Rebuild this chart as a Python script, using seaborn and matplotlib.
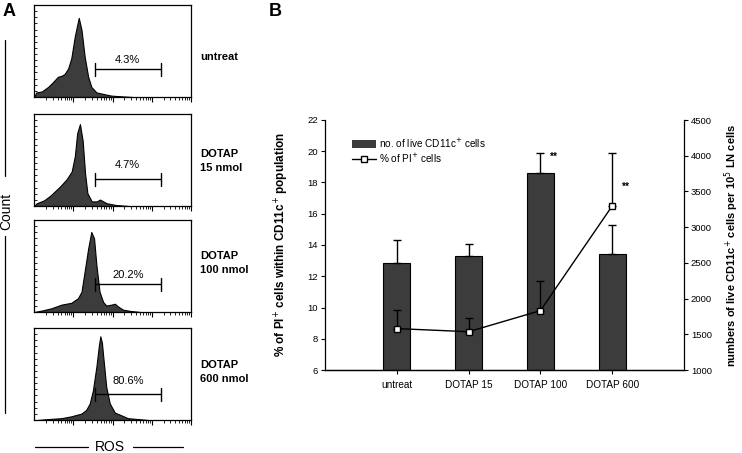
import matplotlib
matplotlib.use("Agg")
import matplotlib.pyplot as plt
from matplotlib.lines import Line2D
from matplotlib.patches import Patch
import numpy as np
import seaborn as sns

# ---- panel A: ROS histograms (log decades, height as fraction of box) ----
SAMPLES = ["untreat", "DOTAP\n15 nmol", "DOTAP\n100 nmol", "DOTAP\n600 nmol"]
GATE_PCT = ["4.3%", "4.7%", "20.2%", "80.6%"]
GATE_RANGE = [1.55, 3.23]

UNTREAT_ROS = [0.0, 0.06, 0.2, 0.36, 0.48, 0.61, 0.70, 0.78, 0.87, 0.95, 1.04, 1.14,
               1.21, 1.29, 1.38, 1.46, 1.59, 1.80, 1.97, 2.3, 2.5]
UNTREAT_COUNT = [0, 0.05, 0.06, 0.11, 0.16, 0.22, 0.23, 0.25, 0.31, 0.42, 0.66, 0.86,
                 0.73, 0.44, 0.22, 0.11, 0.05, 0.03, 0.015, 0.005, 0]

D15_ROS = [0.0, 0.07, 0.25, 0.41, 0.66, 0.83, 0.96, 1.04, 1.10, 1.17, 1.24, 1.30,
           1.36, 1.47, 1.60, 1.68, 1.85, 2.1, 2.4]
D15_COUNT = [0, 0.03, 0.06, 0.11, 0.21, 0.29, 0.375, 0.54, 0.79, 0.89, 0.71, 0.36,
             0.14, 0.05, 0.05, 0.07, 0.03, 0.01, 0]

D100_ROS = [0.0, 0.19, 0.44, 0.70, 0.95, 1.12, 1.21, 1.29, 1.38, 1.46, 1.53, 1.59,
            1.67, 1.76, 1.84, 1.97, 2.06, 2.14, 2.27, 2.48, 2.7]
D100_COUNT = [0, 0.015, 0.04, 0.08, 0.10, 0.15, 0.22, 0.44, 0.69, 0.87, 0.80, 0.51,
              0.22, 0.11, 0.07, 0.08, 0.09, 0.06, 0.025, 0.01, 0]

D600_ROS = [0.1, 0.36, 0.70, 0.95, 1.21, 1.33, 1.42, 1.50, 1.59, 1.65, 1.69, 1.73,
            1.78, 1.84, 1.93, 2.06, 2.23, 2.39, 2.65, 2.9]
D600_COUNT = [0, 0.01, 0.02, 0.04, 0.07, 0.11, 0.18, 0.32, 0.58, 0.80, 0.91, 0.84,
              0.62, 0.36, 0.18, 0.08, 0.05, 0.02, 0.01, 0]

GATE_Y = [0.30, 0.29, 0.30, 0.28]
GATE_LABEL_Y = [0.40, 0.45, 0.40, 0.42]

# ---- panel B ----
CATS = ["untreat", "DOTAP 15", "DOTAP 100", "DOTAP 600"]
LIVE_CELLS = [2500, 2600, 3755, 2620]
LIVE_CELLS_ERR = [315, 165, 285, 405]
PI_PCT = [8.65, 8.45, 9.8, 16.5]
PI_ERR = [1.2, 0.9, 1.9, 3.4]
SIGNIF = ["", "", "**", "**"]
SIGNIF_Y = [0, 0, 19.65, 17.7]

sns.set_style("ticks")
plt.rcParams["font.family"] = ["Liberation Sans", "DejaVu Sans"]
plt.rcParams.update({
    "text.color": "black", "axes.labelcolor": "black", "axes.edgecolor": "black",
    "xtick.color": "black", "ytick.color": "black",
})

W, H = 742, 453
fig = plt.figure(figsize=(W / 100, H / 100), dpi=100)


def fx(px):
    return px / W


def fy(py):
    return 1 - py / H


hist_ros = [UNTREAT_ROS, D15_ROS, D100_ROS, D600_ROS]
hist_count = [UNTREAT_COUNT, D15_COUNT, D100_COUNT, D600_COUNT]
box_tops = [5, 114, 220, 328]
label_y = [57, 161, 263, 372]
minor = np.concatenate([d + np.log10(np.arange(2, 10)) for d in range(4)])

for i in range(4):
    ax = fig.add_axes([fx(34), fy(box_tops[i] + 92), fx(157), 92 / H])
    ax.fill_between(hist_ros[i], hist_count[i], 0, color="#3c3c3c", lw=0.8,
                    edgecolor="black")
    g0, g1 = GATE_RANGE
    ax.plot([g0, g1], [GATE_Y[i]] * 2, color="black", lw=1)
    ax.plot([g0, g0], [GATE_Y[i] - 0.07, GATE_Y[i] + 0.07], color="black", lw=1)
    ax.plot([g1, g1], [GATE_Y[i] - 0.07, GATE_Y[i] + 0.07], color="black", lw=1)
    ax.text((g0 + g1) / 2, GATE_LABEL_Y[i], GATE_PCT[i], ha="center", va="center",
            fontsize=8)
    ax.set_xlim(0, 4)
    ax.set_ylim(0, 1)
    ax.set_xticks([1, 2, 3, 4])
    ax.set_xticks(minor, minor=True)
    ax.set_yticks(np.linspace(0, 1, 16)[1:-1])
    ax.tick_params(axis="x", which="major", direction="out", length=3.5, width=0.8,
                   labelbottom=False)
    ax.tick_params(axis="x", which="minor", direction="out", length=2, width=0.6)
    ax.tick_params(axis="y", direction="in", length=2, width=0.6, labelleft=False)
    for s in ax.spines.values():
        s.set_linewidth(0.9)
    fig.text(fx(200), fy(label_y[i]), SAMPLES[i], ha="left", va="center",
             fontsize=8, fontweight="bold", linespacing=1.45)

# Count / ROS axis captions
fig.add_artist(Line2D([fx(5), fx(5)], [fy(40), fy(176)], color="black", lw=0.9))
fig.add_artist(Line2D([fx(5), fx(5)], [fy(236), fy(413)], color="black", lw=0.9))
fig.text(fx(6), fy(211), "Count", rotation=90, ha="center", va="center", fontsize=10)
fig.add_artist(Line2D([fx(35), fx(88)], [fy(447), fy(447)], color="black", lw=0.9))
fig.add_artist(Line2D([fx(133), fx(183)], [fy(447), fy(447)], color="black", lw=0.9))
fig.text(fx(110), fy(447), "ROS", ha="center", va="center", fontsize=10)

fig.text(fx(9), fy(12), "A", ha="center", va="center", fontsize=13, fontweight="bold")
fig.text(fx(275), fy(11), "B", ha="center", va="center", fontsize=13,
         fontweight="bold")

# ---- panel B ----
axB = fig.add_axes([fx(325), fy(370), fx(359), 250 / H])
axN = axB.twinx()
pos = np.arange(len(CATS))

axB.errorbar(pos, PI_PCT, yerr=[np.zeros(len(CATS)), PI_ERR], fmt="none",
             ecolor="black", elinewidth=1, capsize=3, capthick=1)
sns.lineplot(x=pos, y=PI_PCT, ax=axB, color="black", lw=1, marker="s",
             markersize=5, markerfacecolor="white", markeredgecolor="black",
             markeredgewidth=1, legend=False)

sns.barplot(x=CATS, y=LIVE_CELLS, ax=axN, color="#3c3c3c", saturation=1,
            edgecolor="black", linewidth=0.8, width=0.38, errorbar=None)
axN.errorbar(pos, LIVE_CELLS, yerr=[np.zeros(len(CATS)), LIVE_CELLS_ERR],
             fmt="none", ecolor="black", elinewidth=1, capsize=3, capthick=1)

axB.set_zorder(axN.get_zorder() + 1)
axB.patch.set_visible(False)

for i, s in enumerate(SIGNIF):
    if s:
        axB.text(i + 0.12, SIGNIF_Y[i], s, fontsize=7.5, fontweight="bold",
                 ha="left", va="center")

axB.set_xlim(-1, 4)
axB.set_ylim(6, 22)
axB.set_yticks(np.arange(6, 23, 2))
axN.set_ylim(1000, 4500)
axN.set_yticks(np.arange(1000, 4501, 500))
axB.set_xticks(pos, CATS)
axB.tick_params(axis="x", length=3, width=0.8, labelsize=7.2, pad=4)
axB.tick_params(axis="y", length=3, width=0.8, labelsize=6.8, pad=2)
axN.tick_params(axis="y", length=3, width=0.8, labelsize=6.8, pad=2)
axB.set_xlabel("")
axN.set_xlabel("")
axN.set_ylabel("")

for a in (axB, axN):
    a.spines["top"].set_visible(False)
    for s in a.spines.values():
        s.set_linewidth(0.9)
axB.spines["right"].set_visible(False)
axN.spines["left"].set_visible(False)

axB.set_ylabel("% of PI$^{+}$ cells within CD11c$^{+}$ population", fontsize=8.5,
               fontweight="bold")
axB.yaxis.set_label_coords(-0.094, 0.5)
axN.set_ylabel("numbers of live CD11c$^{+}$ cells per 10$^{5}$ LN cells",
               fontsize=8, fontweight="bold")
axN.yaxis.set_label_coords(1.108, 0.5)

handles = [
    Patch(facecolor="#3c3c3c", edgecolor="none"),
    Line2D([0], [0], color="black", lw=1, marker="s", markersize=5,
           markerfacecolor="white", markeredgecolor="black"),
]
axB.legend(handles, ["no. of live CD11c$^{+}$ cells", "% of PI$^{+}$ cells"],
           loc="upper left", bbox_to_anchor=(0.065, 0.95), frameon=False,
           fontsize=7.2, handlelength=2.4, handleheight=0.9, labelspacing=0.2,
           handletextpad=0.3, borderaxespad=0)

fig.savefig("out.png", dpi=100)
